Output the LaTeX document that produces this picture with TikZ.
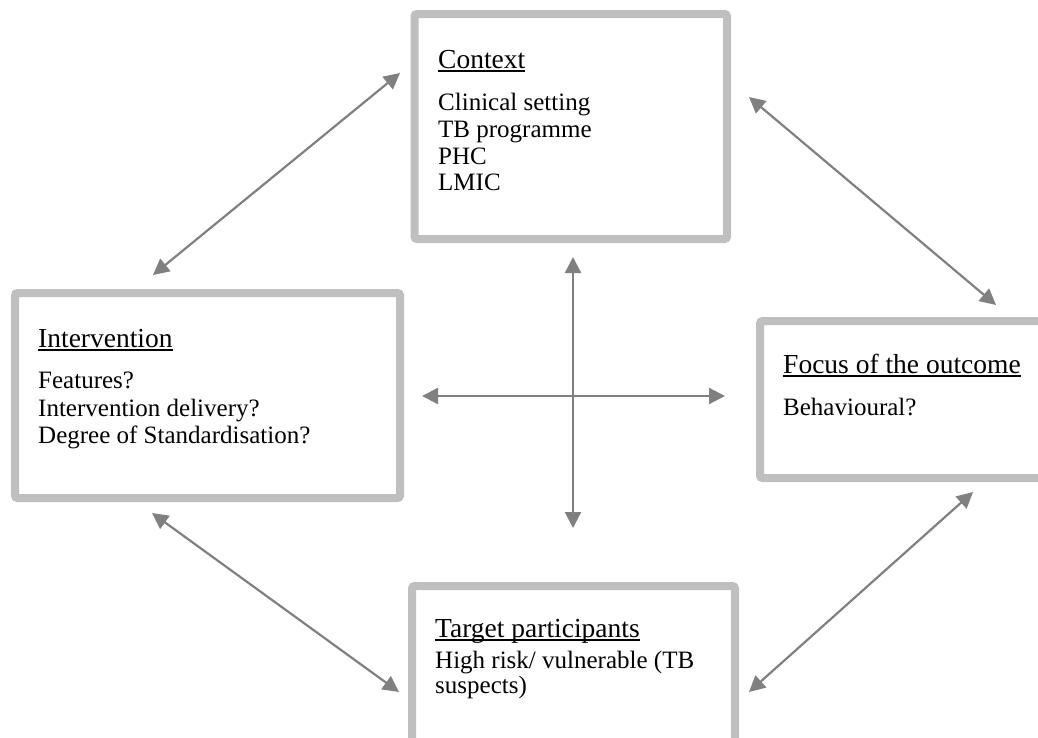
\documentclass[tikz,border=0pt]{standalone}
\usepackage{fontspec}
\setmainfont{Liberation Serif}
\usetikzlibrary{arrows.meta}
\definecolor{boxgray}{HTML}{BFBFBF}
\definecolor{arrgray}{HTML}{808080}
\begin{document}
\begin{tikzpicture}[x=1pt,y=-1pt,
  panel/.style={draw=boxgray, line width=8pt, rounded corners=2.5pt, rectangle, inner sep=0pt},
  heading/.style={anchor=base west, inner sep=0pt, font=\fontsize{27.5}{30}\selectfont},
  item/.style={anchor=base west, inner sep=0pt, font=\fontsize{25}{27}\selectfont},
  tip/.tip={Triangle[length=16pt,width=16pt]},
  link/.style={draw=arrgray, line width=2.2pt, tip-tip},
  uline/.style={line width=1.6pt, draw=black}
]
\useasboundingbox (0,0) rectangle (1038,737);
\clip (0,0) rectangle (1038,737);

% four panels
\node[panel, minimum width=312.5pt, minimum height=225pt] (context) at (570.75,126.5) {};
\node[panel, minimum width=385pt, minimum height=205pt] (interv) at (207.5,395.5) {};
\node[panel, minimum width=300pt, minimum height=157pt] (focus) at (910,399.5) {};
\node[panel, minimum width=323pt, minimum height=174pt] (target) at (573.5,673) {};

% Context
\node[heading] (hctx) at (438,68) {Context};
\node[item] (c1) at (438,110.7) {Clinical setting};
\node[item] (c2) at (438,137.4) {TB programme};
\node[item] (c3) at (438,164) {PHC};
\node[item] (c4) at (438,190.7) {LMIC};

% Intervention
\node[heading] (hint) at (38,347) {Intervention};
\node[item] (i1) at (38,388.3) {Features?};
\node[item] (i2) at (38,416.3) {Intervention delivery?};
\node[item] (i3) at (38,443.6) {Degree of Standardisation?};

% Focus of the outcome
\node[heading] (hfoc) at (783,373) {Focus of the outcome};
\node[item] (f1) at (783,415) {Behavioural?};

% Target participants
\node[heading] (htgt) at (435,637) {Target participants};
\node[item] (t1) at (435,668) {High risk/ vulnerable (TB};
\node[item] (t2) at (435,693) {suspects)};

% heading underlines
\foreach \h in {hctx,hint,hfoc,htgt}
  \draw[uline] ([yshift=-3pt]\h.base west) -- ([yshift=-3pt]\h.base east);

% connector end points
\coordinate (ciA) at (400,73);
\coordinate (ciB) at (153,275);
\coordinate (cfA) at (749,97);
\coordinate (cfB) at (996,305);
\coordinate (itA) at (152,513);
\coordinate (itB) at (399,692);
\coordinate (ftA) at (973,492);
\coordinate (ftB) at (749,692);
\coordinate (vtop) at (573,257);
\coordinate (vbot) at (573,528);
\coordinate (hlft) at (422,396);
\coordinate (hrgt) at (725,396);

% connectors
\draw[link] (ciB) -- (ciA);
\draw[link] (cfA) -- (cfB);
\draw[link] (itA) -- (itB);
\draw[link] (ftB) -- (ftA);
\draw[link] (vbot) -- (vtop);
\draw[link] (hlft) -- (hrgt);
\end{tikzpicture}
\end{document}
